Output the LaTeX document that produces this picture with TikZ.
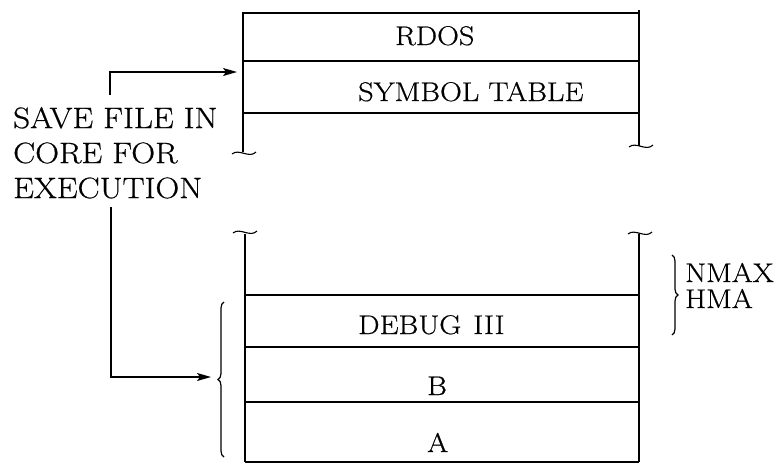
\documentclass[tikz,border=0pt]{standalone}
\usepackage{fontspec}
\newfontfamily\labfont{Latin Modern Roman}[FakeStretch=1.12,FakeBold=0.6]
\usetikzlibrary{decorations.pathreplacing,arrows.meta}
\begin{document}
\begin{tikzpicture}[x=1pt,y=-1pt,
  hline/.style={line width=1.7pt},
  vline/.style={line width=1.1pt},
  lbl/.style={font=\labfont\fontsize{27}{32}\selectfont, inner sep=0pt, anchor=base west},
  conn/.style={line width=1.4pt, -{Stealth[length=14pt,width=8pt,inset=3pt]}},
  brc/.style={line width=1.2pt, decorate, decoration={brace, amplitude=6pt}},
  brk/.pic={\draw[line width=1.1pt] (-12,1) .. controls (-5,-5) and (5,6) .. (12,-1);}
]
\useasboundingbox (0,0) rectangle (777,464);

% upper memory section
\draw[vline] (243,12) -- (243,152);
\draw[vline] (639,10) -- (639,146);
\draw[hline] (243,13) -- (639,13);
\draw[hline] (243,61) -- (639,61);
\draw[hline] (243,113) -- (639,113);
\pic at (244,153) {brk};
\pic at (641,146) {brk};

\node[lbl] (rdos) at (395,45) {RDOS};
\node[lbl] (symtab) at (358,101) {SYMBOL TABLE};

% lower memory section
\pic at (245,232) {brk};
\pic at (640,233) {brk};
\draw[vline] (245,234) -- (245,462);
\draw[vline] (639,234) -- (639,462);
\draw[hline] (245,295) -- (639,295);
\draw[hline] (245,347) -- (639,347);
\draw[hline] (245,402) -- (639,402);
\draw[hline] (245,462) -- (639,462);

\node[lbl] (debug) at (358,334) {DEBUG\hspace{12pt}III};
\node[lbl] (b) at (427,395) {B};
\node[lbl] (a) at (427,452) {A};

% NMAX / HMA
\draw[brc] (672,255) -- (672,335);
\node[lbl] (nmax) at (685,282) {NMAX};
\node[lbl] (hma) at (685,308) {HMA};

% lower left brace
\draw[brc] (224,457) -- (224,302);

% caption text
\node[font=\labfont\fontsize{29.5}{35}\selectfont, inner sep=0pt, anchor=north west, align=left] (save) at (13,107)
  {SAVE FILE IN\\CORE FOR\\EXECUTION};

% connectors
\coordinate (a1s) at (110,95);
\coordinate (a1c) at (110,72);
\coordinate (a1e) at (237,72);
\coordinate (a2s) at (111,207);
\coordinate (a2c) at (111,377);
\coordinate (a2e) at (211,377);
\draw[conn] (a1s) -- (a1c) -- (a1e);
\draw[conn] (a2s) -- (a2c) -- (a2e);
\end{tikzpicture}
\end{document}
